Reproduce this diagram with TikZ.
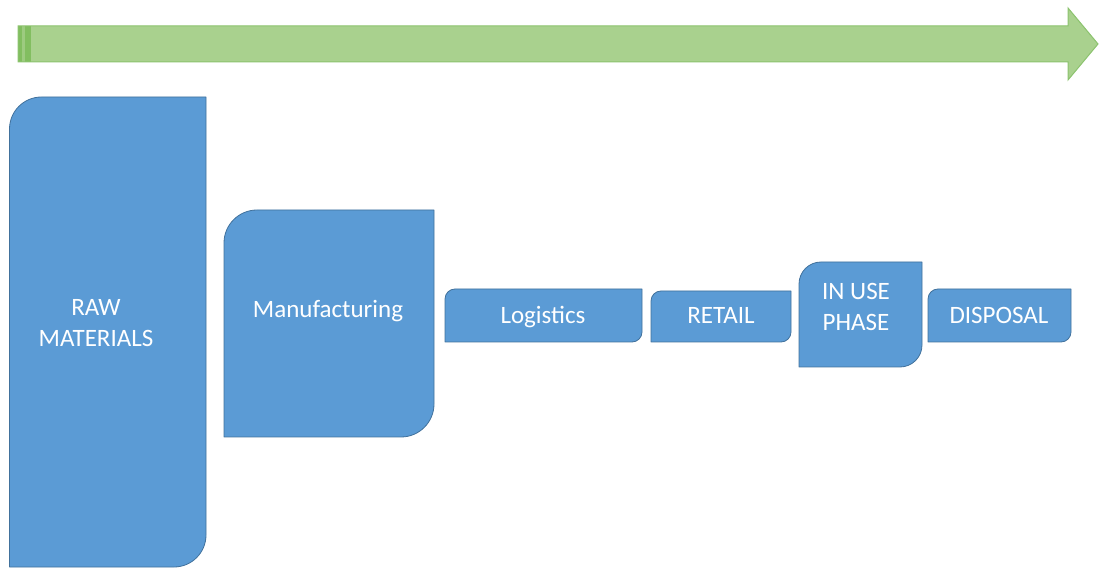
\documentclass[tikz,border=0pt]{standalone}
\usepackage{fontspec}
\setmainfont{Carlito}
\definecolor{boxfill}{HTML}{5B9BD5}
\definecolor{boxline}{HTML}{41719C}
\definecolor{arrfill}{HTML}{A9D18E}
\definecolor{arrline}{HTML}{8CC36E}
\definecolor{arrdark}{HTML}{82BE60}
\newcommand\rdbox[5]{%
  \draw[blockshape] (#1,#2) -- (#1,#4-#5) arc[start angle=180,end angle=90,radius=#5pt]
    -- (#3,#4) -- (#3,#2+#5) arc[start angle=0,end angle=-90,radius=#5pt] -- cycle;}
\tikzset{
  blockshape/.style={fill=boxfill, draw=boxline, line width=0.8pt, line join=round},
  lbl/.style={text=white, font=\fontsize{25}{31}\selectfont, align=center, inner sep=0pt},
  arrowbody/.style={fill=arrfill, draw=arrline, line width=1pt, line join=miter},
}
\begin{document}
\begin{tikzpicture}[x=1pt,y=1pt]
\useasboundingbox (0,0) rectangle (1099,570);
% timeline arrow
\fill[arrfill] (18,508) -- (18,544) -- (1068,544) -- (1068,562) -- (1098,526) -- (1068,490) -- (1068,508) -- cycle;
\fill[arrdark] (18,508) rectangle (31,544);
\fill[arrfill!70!arrdark] (22,508) rectangle (25,544);
\draw[arrowbody, fill=none] (18,508) -- (18,544) -- (1068,544) -- (1068,562) -- (1098,526) -- (1068,490) -- (1068,508) -- cycle;
% boxes
\rdbox{9.5}{3}{206}{473}{32}
\rdbox{224}{133}{434}{360}{33}
\rdbox{445}{228}{642}{281}{10}
\rdbox{651}{228}{791}{279}{10}
\rdbox{799}{203}{922}{308}{22}
\rdbox{928}{228}{1071}{281}{10}
% labels
\node[lbl] (raw) at (96,247) {RAW\\MATERIALS};
\node[lbl, anchor=base] (manu) at (328,252) {Manufacturing};
\node[lbl, anchor=base] (logi) at (543,246.5) {Logistics};
\node[lbl, anchor=base] (retail) at (721,246) {RETAIL};
\node[lbl] (inuse) at (856,263) {IN USE\\PHASE};
\node[lbl, anchor=base] (disp) at (999,246.5) {DISPOSAL};
\end{tikzpicture}
\end{document}
